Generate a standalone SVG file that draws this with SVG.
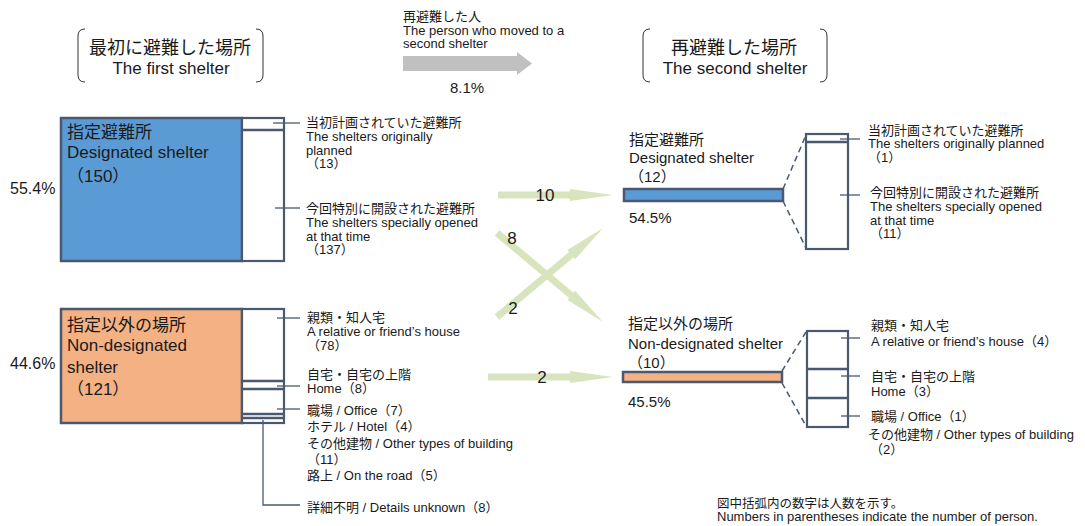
<svg xmlns="http://www.w3.org/2000/svg" width="1085" height="526" viewBox="0 0 1085 526">
<style>
text{font-family:"Liberation Sans","Noto Sans CJK JP",sans-serif;fill:#1a1a1a}
.s{font-size:13px}
.m{font-size:15px}
.l{font-size:17px}
.box{stroke:#4a5870;stroke-width:2.5}
.col{fill:#fff;stroke:#4a5870;stroke-width:2.2}
.div{stroke:#4a5870;stroke-width:2.5}
.lead{stroke:#4a5870;stroke-width:1.3;fill:none}
.dash{stroke:#4a5870;stroke-width:1.5;stroke-dasharray:6 4;fill:none}
.br{stroke:#333;stroke-width:1;fill:none}
.ga{fill:#d7e4bd}
</style>
<rect width="1085" height="526" fill="#fff"/>

<g id="header-first">
<path class="br" d="M85 29 Q78 29 78 36 L78 75 Q78 82 85 82"/>
<path class="br" d="M256 29 Q263 29 263 36 L263 75 Q263 82 256 82"/>
<text x="170" y="54" text-anchor="middle" style="font-size:18px">最初に避難した場所</text>
<text class="l" x="171" y="74" text-anchor="middle">The first shelter</text>
</g>

<g id="header-second">
<path class="br" d="M650 29 Q643 29 643 36 L643 75 Q643 82 650 82"/>
<path class="br" d="M820 29 Q827 29 827 36 L827 75 Q827 82 820 82"/>
<text x="734" y="54" text-anchor="middle" style="font-size:18px">再避難した場所</text>
<text class="l" x="735" y="74" text-anchor="middle">The second shelter</text>
</g>

<g id="legend-arrow">
<text class="s" x="403" y="21">再避難した人</text>
<text class="s" x="403" y="35">The person who moved to a</text>
<text class="s" x="403" y="48">second shelter</text>
<polygon fill="#c0c0c0" points="403,56 517,56 517,52 532,63.5 517,75 517,71 403,71"/>
<text class="m" x="467" y="93" text-anchor="middle">8.1%</text>
</g>

<g id="first-designated">
<rect class="box" x="61" y="118" width="181" height="143" fill="#5b9bd5"/>
<text class="l" x="67" y="138">指定避難所</text>
<text class="l" x="67" y="158">Designated shelter</text>
<text class="l" x="67" y="182">（150）</text>
<text x="10" y="194" style="font-size:16px">55.4%</text>
<rect class="col" x="242" y="118" width="42" height="143"/>
<line class="div" x1="242" y1="130" x2="284" y2="130"/>
<line class="lead" x1="273" y1="123" x2="300" y2="123"/>
<line class="lead" x1="275" y1="208" x2="300" y2="208"/>
<text class="s" x="306" y="127">当初計画されていた避難所</text>
<text class="s" x="306" y="141">The shelters originally</text>
<text class="s" x="306" y="154.5">planned</text>
<text class="s" x="306" y="168">（13）</text>
<text class="s" x="306" y="212.5">今回特別に開設された避難所</text>
<text class="s" x="306" y="226.5">The shelters specially opened</text>
<text class="s" x="306" y="240.5">at that time</text>
<text class="s" x="306" y="254">（137）</text>
</g>

<g id="first-nondesignated">
<rect class="box" x="61" y="309" width="181" height="114" fill="#f4b183"/>
<text class="l" x="67" y="331">指定以外の場所</text>
<text class="l" x="67" y="351">Non-designated</text>
<text class="l" x="67" y="373">shelter</text>
<text class="l" x="67" y="395">（121）</text>
<text x="10" y="369" style="font-size:16px">44.6%</text>
<rect class="col" x="242" y="309" width="42" height="114"/>
<line class="div" x1="242" y1="381" x2="284" y2="381"/>
<line class="div" x1="242" y1="389" x2="284" y2="389"/>
<line class="div" x1="242" y1="414" x2="284" y2="414"/>
<line class="div" x1="242" y1="418" x2="284" y2="418"/>
<line class="lead" x1="277" y1="318" x2="300" y2="318"/>
<line class="lead" x1="277" y1="386" x2="300" y2="386"/>
<line class="lead" x1="277" y1="409" x2="300" y2="409"/>
<polyline class="lead" points="263,420 263,505 300,505"/>
<text class="s" x="307" y="321.5">親類・知人宅</text>
<text class="s" x="307" y="335.5">A relative or friend’s house</text>
<text class="s" x="307" y="349.5">（78）</text>
<text class="s" x="307" y="379">自宅・自宅の上階</text>
<text class="s" x="307" y="393">Home（8）</text>
<text class="s" x="307" y="414.5">職場 / Office（7）</text>
<text class="s" x="307" y="431">ホテル / Hotel（4）</text>
<text class="s" x="307" y="447.5">その他建物 / Other types of building</text>
<text class="s" x="307" y="463.5">（11）</text>
<text class="s" x="307" y="479.5">路上 / On the road（5）</text>
<text class="s" x="307" y="511.5">詳細不明 / Details unknown（8）</text>
</g>

<g id="connectors">
<polygon class="ga" points="498,191.5 570,191.5 570,189 613,195 570,201 570,198.5 498,198.5"/>
<polygon class="ga" points="488,373.5 570,373.5 570,371 613,377 570,383 570,380.5 488,380.5"/>
<polygon class="ga" transform="translate(497,233) rotate(40)" points="0,-3.5 97,-3.5 97,-6 138,0 97,6 97,3.5 0,3.5"/>
<polygon class="ga" transform="translate(497,317) rotate(-40)" points="0,-3.5 97,-3.5 97,-6 138,0 97,6 97,3.5 0,3.5"/>
<text class="l" x="545" y="201" text-anchor="middle">10</text>
<text class="l" x="542" y="383" text-anchor="middle">2</text>
<text class="l" x="512" y="244" text-anchor="middle">8</text>
<text class="l" x="513" y="314" text-anchor="middle">2</text>
</g>

<g id="second-designated">
<text class="m" x="629" y="144.5">指定避難所</text>
<text class="m" x="629" y="162.5">Designated shelter</text>
<text class="m" x="629" y="181.5">（12）</text>
<rect class="box" x="624" y="189" width="159" height="12" fill="#5b9bd5"/>
<text class="m" x="629" y="222.5">54.5%</text>
<line class="dash" x1="783" y1="189" x2="806" y2="135"/>
<line class="dash" x1="783" y1="201" x2="806" y2="248"/>
<rect class="col" x="806" y="134" width="42" height="115"/>
<line class="div" x1="806" y1="142" x2="848" y2="142"/>
<line class="lead" x1="840" y1="139" x2="860" y2="139"/>
<line class="lead" x1="840" y1="195" x2="860" y2="195"/>
<text class="s" x="868" y="134.5">当初計画されていた避難所</text>
<text class="s" x="868" y="148">The shelters originally planned</text>
<text class="s" x="868" y="162">（1）</text>
<text class="s" x="870" y="197">今回特別に開設された避難所</text>
<text class="s" x="870" y="210.5">The shelters specially opened</text>
<text class="s" x="870" y="224.5">at that time</text>
<text class="s" x="870" y="238">（11）</text>
</g>

<g id="second-nondesignated">
<text class="m" x="628" y="328.5">指定以外の場所</text>
<text class="m" x="628" y="348.5">Non-designated shelter</text>
<text class="m" x="628" y="367.5">（10）</text>
<rect class="box" x="623" y="372" width="159" height="10" fill="#f4b183"/>
<text class="m" x="628" y="406.5">45.5%</text>
<line class="dash" x1="782" y1="371" x2="806" y2="332"/>
<line class="dash" x1="782" y1="383" x2="806" y2="426"/>
<rect class="col" x="807" y="331" width="41" height="96"/>
<line class="div" x1="807" y1="369" x2="848" y2="369"/>
<line class="div" x1="807" y1="398" x2="848" y2="398"/>
<line class="lead" x1="841" y1="338" x2="860" y2="338"/>
<line class="lead" x1="841" y1="376" x2="860" y2="376"/>
<line class="lead" x1="841" y1="416" x2="860" y2="416"/>
<text class="s" x="871" y="330">親類・知人宅</text>
<text class="s" x="871" y="345.5">A relative or friend’s house（4）</text>
<text class="s" x="871" y="381">自宅・自宅の上階</text>
<text class="s" x="871" y="395.5">Home（3）</text>
<text class="s" x="871" y="420.5">職場 / Office（1）</text>
<text class="s" x="868" y="438.5">その他建物 / Other types of building</text>
<text class="s" x="870" y="453.5">（2）</text>
</g>

<g id="footnote">
<text x="717" y="507.5" style="font-size:12.5px">図中括弧内の数字は人数を示す。</text>
<text x="717" y="521" style="font-size:13px">Numbers in parentheses indicate the number of person.</text>
</g>
</svg>
